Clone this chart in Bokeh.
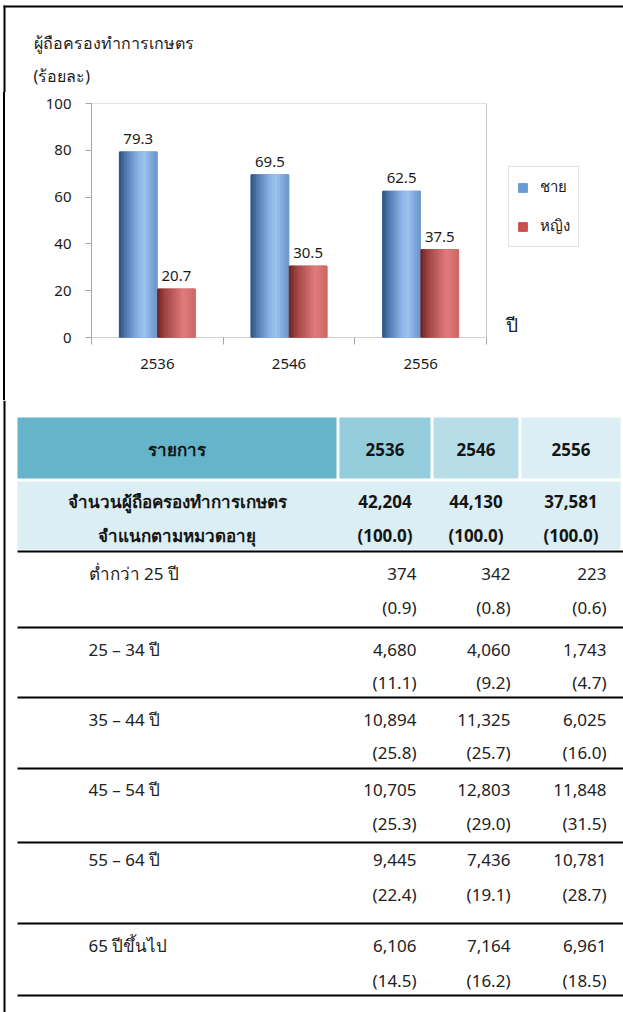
from bokeh.plotting import figure
from bokeh.models import ColumnDataSource, Range1d, FixedTicker, Legend, LegendItem
from bokeh.transform import dodge
from bokeh.core.properties import value
from bokeh.embed import file_html
from bokeh.resources import INLINE

# ---------------- data ----------------
chart_title = "ผู้ถือครองทำการเกษตร"
y_unit = "(ร้อยละ)"
x_unit = "ปี"
years = ["2536", "2546", "2556"]
male = [79.3, 69.5, 62.5]
female = [20.7, 30.5, 37.5]
series_names = ["ชาย", "หญิง"]

table_head = "รายการ"
total_label = ["จำนวนผู้ถือครองทำการเกษตร", "จำแนกตามหมวดอายุ"]
total_holders = [42204, 44130, 37581]
total_pct = [100.0, 100.0, 100.0]
age_groups = ["ต่ำกว่า 25 ปี", "25 – 34 ปี", "35 – 44 ปี", "45 – 54 ปี", "55 – 64 ปี", "65 ปีขึ้นไป"]
counts_2536 = [374, 4680, 10894, 10705, 9445, 6106]
counts_2546 = [342, 4060, 11325, 12803, 7436, 7164]
counts_2556 = [223, 1743, 6025, 11848, 10781, 6961]
pct_2536 = [0.9, 11.1, 25.8, 25.3, 22.4, 14.5]
pct_2546 = [0.8, 9.2, 25.7, 29.0, 19.1, 16.2]
pct_2556 = [0.6, 4.7, 16.0, 31.5, 28.7, 18.5]

FONT = "'Noto Sans', Tahoma, sans-serif"
W = 623
GRAY = "#A6A6A6"
TXT = "#1a1a1a"
NC = len(years)

# ---------------- heading (title + unit) ----------------
HH = 92
h = figure(width=W, height=HH, x_range=Range1d(0, W), y_range=Range1d(HH, 0),
           output_backend="svg", toolbar_location=None, x_axis_type=None, y_axis_type=None,
           min_border=0, outline_line_color=None)
h.xgrid.visible = False
h.ygrid.visible = False
h.segment(x0=[3, 4], x1=[W, 4], y0=[6, 5], y1=[6, HH], line_color="black", line_width=2)
h.text(x=[33, 33], y=[42, 75], text=[chart_title, y_unit], text_align="left", text_baseline="middle",
       text_font_size={"value": "16px"}, text_font=value(FONT), text_color=TXT)

# ---------------- chart ----------------
SHIFT = 5                         # chart box starts 5px in, the frame line sits just left of it
CW = W - SHIFT
CH = 308
ML, MR, MT, MB = 91 - SHIFT, 23, 11, 63
PLOT_W = 395                      # pixel width of the three category slots
FRAME_W = CW - ML - MR
X_END = NC * FRAME_W / PLOT_W

p = figure(width=CW, height=CH, x_range=Range1d(0, X_END), y_range=Range1d(0, 100),
           output_backend="svg", toolbar_location=None, title=None,
           min_border_left=ML, min_border_right=MR, min_border_top=MT, min_border_bottom=MB,
           styles={"margin-left": f"{SHIFT}px", "box-shadow": "-2px 0 0 0 #000"})
p.xgrid.visible = False
p.ygrid.visible = False
p.outline_line_color = None

p.yaxis.ticker = FixedTicker(ticks=[0, 20, 40, 60, 80, 100])
p.yaxis.major_tick_out = 6
p.yaxis.major_tick_in = 0
p.yaxis.major_tick_line_color = GRAY
p.yaxis.axis_line_color = GRAY
p.yaxis.major_label_standoff = 14
p.yaxis.major_label_text_font_size = "15px"
p.yaxis.major_label_text_font = FONT
p.yaxis.major_label_text_color = TXT

p.xaxis.ticker = FixedTicker(ticks=[i + 0.5 for i in range(NC)], minor_ticks=list(range(NC + 1)))
p.xaxis.major_label_overrides = {i + 0.5: y for i, y in enumerate(years)}
p.xaxis.major_tick_line_color = None
p.xaxis.major_tick_out = 0
p.xaxis.major_tick_in = 0
p.xaxis.minor_tick_out = 7
p.xaxis.minor_tick_in = 0
p.xaxis.minor_tick_line_color = GRAY
p.xaxis.axis_line_color = None
p.xaxis.major_label_standoff = 14
p.xaxis.major_label_text_font_size = "15px"
p.xaxis.major_label_text_font = FONT
p.xaxis.major_label_text_color = TXT

# plot-area box: bottom axis line, top and right edges, limited to the category slots
p.segment(x0=[0, 0, NC], x1=[NC, NC, NC], y0=[0, 100, 0], y1=[0, 100, 100],
          line_color=[GRAY, "#C8C8C8", "#C8C8C8"], line_width=1)

src = ColumnDataSource(dict(
    x=[i + 0.5 for i in range(NC)],
    male=male, female=female,
    mlab=[f"{v:.1f}" for v in male],
    flab=[f"{v:.1f}" for v in female],
))

BW = 0.285
OFF = 0.145


def hex2rgb(hx):
    hx = hx.lstrip("#")
    return tuple(int(hx[i:i + 2], 16) for i in (0, 2, 4))


def grad(stops, f):
    for (f0, c0), (f1, c1) in zip(stops[:-1], stops[1:]):
        if f0 <= f <= f1:
            tt = (f - f0) / (f1 - f0) if f1 > f0 else 0
            a, b = hex2rgb(c0), hex2rgb(c1)
            return "#%02x%02x%02x" % tuple(round(a[k] + (b[k] - a[k]) * tt) for k in range(3))
    return stops[-1][1]


blue_stops = [(0.0, "#2E4C78"), (0.15, "#4C74AA"), (0.5, "#8AB2E4"), (0.68, "#9CC2EE"), (1.0, "#6C96CC")]
red_stops = [(0.0, "#6A2424"), (0.2, "#A04242"), (0.7, "#E27C7C"), (1.0, "#D06767")]

r_m = p.vbar(x=dodge("x", -OFF, range=p.x_range), top="male", width=BW, color="#6B9BD6", source=src)
r_f = p.vbar(x=dodge("x", OFF, range=p.x_range), top="female", width=BW, color="#C9504F", source=src)

N = 14
for base, col, stops in ((-OFF, "male", blue_stops), (OFF, "female", red_stops)):
    for k in range(N):
        f = (k + 0.5) / N
        p.vbar(x=dodge("x", base - BW / 2 + f * BW, range=p.x_range), top=col,
               width=BW / N * 1.08, color=grad(stops, f), source=src)

for off, col, lab in ((-OFF, "male", "mlab"), (OFF, "female", "flab")):
    p.text(x=dodge("x", off, range=p.x_range), y=col, text=lab, source=src,
           text_align="center", text_baseline="bottom", y_offset=-8,
           text_font_size="15px", text_font=value(FONT), text_color=TXT)

legend = Legend(items=[LegendItem(label=series_names[0], renderers=[r_m]),
                       LegendItem(label=series_names[1], renderers=[r_f])],
                location=(417, 90), margin=0, padding=8, spacing=15,
                glyph_width=11, glyph_height=11, label_standoff=12,
                label_text_font_size="15px", label_text_font=FONT, label_text_color=TXT,
                border_line_color="#C8C8C8", background_fill_color="white")
p.add_layout(legend)

# unit of the x axis, just right of the plot area
p.text(x=[NC + 0.145], y=[0], text=[x_unit], text_align="left", text_baseline="bottom",
       text_font_size="19px", text_font=value(FONT), text_color=TXT)

# ---------------- table ----------------
TH = 612
t = figure(width=W, height=TH, x_range=Range1d(0, W), y_range=Range1d(400 + TH, 400),
           output_backend="svg", toolbar_location=None, x_axis_type=None, y_axis_type=None,
           min_border=0, outline_line_color=None)
t.xgrid.visible = False
t.ygrid.visible = False
t.segment(x0=[4], x1=[4], y0=[400], y1=[400 + TH], line_color="black", line_width=2)

col_left = [17, 339, 433, 521]
col_right = [336, 430, 518, 620]
hdr_colors = ["#65B4CA", "#93CDDC", "#B7DEE8", "#DAEEF3"]
HDR_TOP, HDR_BOT = 417, 478
t.quad(left=col_left, right=col_right, top=[HDR_TOP] * 4, bottom=[HDR_BOT] * 4,
       color=hdr_colors, line_color=None)
t.quad(left=[17], right=[620], top=[481], bottom=[549], color="#DAEEF3", line_color=None)

cell_center = [(a + b) / 2 for a, b in zip(col_left, col_right)]
TFS = "17px"
TB = "#151515"
t.text(x=cell_center, y=[449] * 4, text=[table_head] + years, text_align="center",
       text_baseline="middle", text_font_size=TFS, text_font=value(FONT),
       text_font_style="bold", text_color=TB)

t.text(x=[cell_center[0]] * 2, y=[501, 535], text=total_label,
       text_align="center", text_baseline="middle", text_font_size=TFS, text_font=value(FONT),
       text_font_style="bold", text_color=TB)
t.text(x=cell_center[1:], y=[501] * 3, text=[f"{v:,}" for v in total_holders],
       text_align="center", text_baseline="middle", text_font_size=TFS, text_font=value(FONT),
       text_font_style="bold", text_color=TB)
t.text(x=cell_center[1:], y=[535] * 3, text=[f"({v:.1f})" for v in total_pct],
       text_align="center", text_baseline="middle", text_font_size=TFS, text_font=value(FONT),
       text_font_style="bold", text_color=TB)

rule_y = [551, 627, 697, 768, 842, 923, 995]
t.segment(x0=[17] * len(rule_y), x1=[W] * len(rule_y), y0=rule_y, y1=rule_y,
          line_color="black", line_width=2)

row_label_y = [573, 649, 719, 789, 859, 945]
row_pct_y = [607, 682, 752, 823, 894, 980]
tsrc = ColumnDataSource(dict(
    label=age_groups, ly=row_label_y, py=row_pct_y,
    c0=[f"{v:,}" for v in counts_2536], c1=[f"{v:,}" for v in counts_2546], c2=[f"{v:,}" for v in counts_2556],
    p0=[f"({v:.1f})" for v in pct_2536], p1=[f"({v:.1f})" for v in pct_2546], p2=[f"({v:.1f})" for v in pct_2556],
))
t.text(x=88, y="ly", text="label", source=tsrc, text_align="left", text_baseline="middle",
       text_font_size=TFS, text_font=value(FONT), text_color="#222222")
num_right = [416, 510, 606]
for j in range(3):
    t.text(x=num_right[j], y="ly", text=f"c{j}", source=tsrc, text_align="right", text_baseline="middle",
           text_font_size=TFS, text_font=value(FONT), text_color="#222222")
    t.text(x=num_right[j], y="py", text=f"p{j}", source=tsrc, text_align="right", text_baseline="middle",
           text_font_size=TFS, text_font=value(FONT), text_color="#222222")

open("out.html", "w").write(file_html([h, p, t], INLINE))
